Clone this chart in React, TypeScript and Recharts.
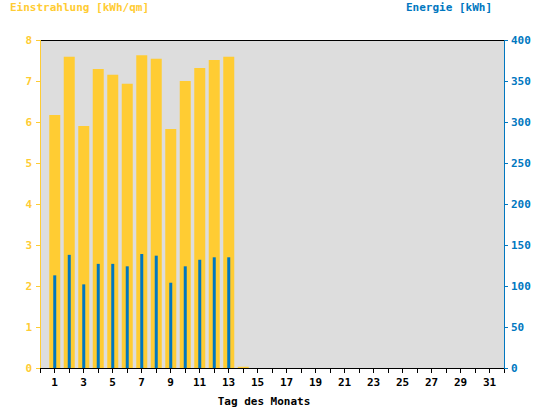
import React from 'react';
import { ComposedChart, Bar, XAxis, YAxis, CartesianGrid, ReferenceLine } from 'recharts';

const days = [1, 2, 3, 4, 5, 6, 7, 8, 9, 10, 11, 12, 13, 14];
const einstrahlung = [6.17, 7.59, 5.9, 7.29, 7.15, 6.93, 7.63, 7.54, 5.83, 7.0, 7.32, 7.51, 7.59, 0.03];
const energie = [113, 138, 102, 127, 127, 124, 139, 137, 104, 124, 132, 135, 135, 0];
const xTicks = Array.from({ length: 33 }, (_, i) => i);
const leftTicks = [0, 1, 2, 3, 4, 5, 6, 7, 8];
const rightTicks = [0, 50, 100, 150, 200, 250, 300, 350, 400];

const YELLOW = '#FFCC33';
const BLUE = '#0077C0';
const FONT = "'DejaVu Sans Mono', monospace";

const data = days.map((d, i) => ({ day: d, e: einstrahlung[i], p: energie[i] }));

const tickStyle = (fill: string) => ({ fill, fontSize: 11, fontFamily: FONT, fontWeight: 'bold' as const });
const crisp = { shapeRendering: 'crispEdges' as const };

export default function App() {
  return (
    <div style={{ position: 'absolute', left: 0, top: 0, width: 544, height: 408, background: '#fff' }}>
      <ComposedChart width={544} height={408} data={data} margin={{ top: 40, right: 0, bottom: 0, left: 0 }}>
        <CartesianGrid fill="#DDDDDD" horizontal={false} vertical={false} yAxisId="left" />
        <XAxis
          xAxisId="a"
          dataKey="day"
          type="number"
          domain={[0, 32]}
          ticks={xTicks}
          interval={0}
          allowDataOverflow
          height={40}
          tickFormatter={(v: number) => (v % 2 === 1 ? String(v) : '')}
          tick={tickStyle('#000')}
          tickSize={5}
          tickMargin={5}
          stroke="#000"
          tickLine={{ stroke: '#000', ...crisp }}
          axisLine={{ stroke: '#000', ...crisp }}
        />
        <XAxis xAxisId="b" dataKey="day" type="number" domain={[0, 32]} hide allowDataOverflow />
        <YAxis
          yAxisId="left"
          orientation="left"
          domain={[0, 8]}
          ticks={leftTicks}
          interval={0}
          width={40}
          tick={tickStyle(YELLOW)}
          tickSize={4}
          tickMargin={4}
          axisLine={{ stroke: YELLOW, ...crisp }}
          tickLine={{ stroke: YELLOW, ...crisp }}
        />
        <YAxis
          yAxisId="right"
          orientation="right"
          domain={[0, 400]}
          ticks={rightTicks}
          interval={0}
          width={40}
          tick={tickStyle(BLUE)}
          tickSize={4}
          tickMargin={3}
          axisLine={{ stroke: BLUE, ...crisp }}
          tickLine={{ stroke: BLUE, ...crisp }}
        />
        <ReferenceLine xAxisId="a" yAxisId="left" y={8} stroke="#000" strokeWidth={1} shapeRendering="crispEdges" />
        <Bar xAxisId="a" yAxisId="left" dataKey="e" fill={YELLOW} barSize={11} isAnimationActive={false} />
        <Bar xAxisId="b" yAxisId="right" dataKey="p" fill={BLUE} barSize={3} isAnimationActive={false} />
      </ComposedChart>
      <svg width={544} height={408} style={{ position: 'absolute', left: 0, top: 0, pointerEvents: 'none' }}>
        <text x={10} y={11} fill={YELLOW} fontSize={11} fontFamily={FONT} fontWeight="bold">Einstrahlung [kWh/qm]</text>
        <text x={492} y={11} fill={BLUE} fontSize={11} fontFamily={FONT} fontWeight="bold" textAnchor="end">Energie [kWh]</text>
        <text x={264} y={405} fill="#000" fontSize={11} fontFamily={FONT} fontWeight="bold" textAnchor="middle">Tag des Monats</text>
      </svg>
    </div>
  );
}
